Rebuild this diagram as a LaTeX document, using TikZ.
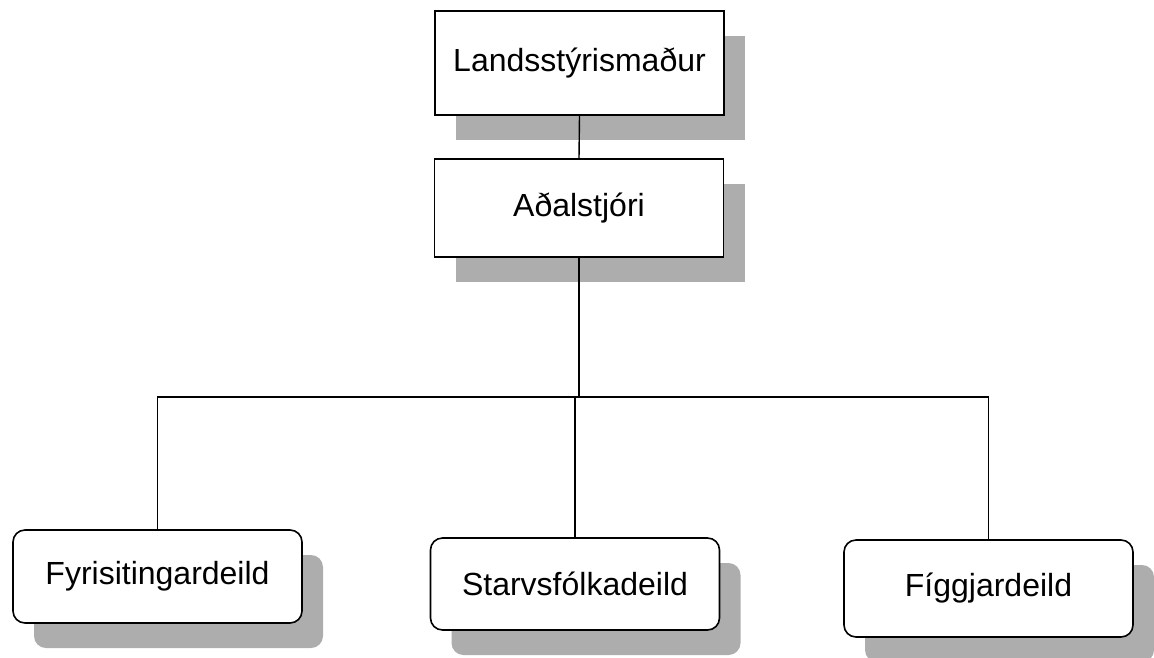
\documentclass[tikz,border=0pt]{standalone}
\usepackage{fontspec}
\setmainfont{Liberation Sans}
\usetikzlibrary{shadows}
\begin{document}
\begin{tikzpicture}[x=1pt,y=-1pt,
  boxshadow/.style={drop shadow={shadow xshift=21pt,shadow yshift=-25pt,fill=black!32,opacity=1}},
  sqbox/.style={draw,line width=1.6pt,fill=white,minimum width=289pt,inner sep=0pt,
    font=\fontsize{32}{38}\selectfont,boxshadow},
  rbox/.style={sqbox,rounded corners=12pt},
  link/.style={line width=1.4pt}]
\useasboundingbox (0,0) rectangle (1154,657);
\node[sqbox,minimum height=104pt] (lm) at (579.5,63) {Landsstýrismaður};
\node[sqbox,minimum height=98pt] (as) at (579,208) {Aðalstjóri};
\node[rbox,minimum height=93pt] (fy) at (157.5,576.5) {Fyrisitingardeild};
\node[rbox,minimum height=92pt] (st) at (575,584) {Starvsfólkadeild};
\node[rbox,minimum height=97pt] (fi) at (988.5,588.5) {Fíggjardeild};
\coordinate (j) at (575,397);
\draw[link] (lm.south) -- (as.north);
\draw[link] (as.south) -- (as.south |- j);
\draw[link] (fy.north) -- (fy.north |- j) -- (fi.north |- j) -- (fi.north);
\draw[link] (j) -- (st.north);
\end{tikzpicture}
\end{document}
